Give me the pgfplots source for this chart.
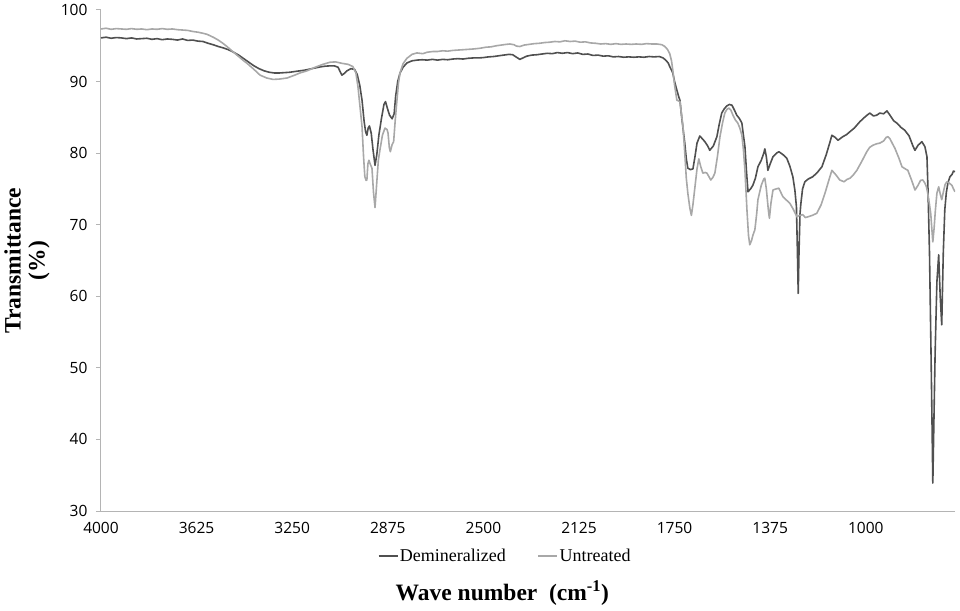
\documentclass[border=0pt]{standalone}
\usepackage{fontspec}
\setmainfont{Liberation Serif}
\newfontfamily\tickfont{Open Sans}
\usepackage{pgfplots}
\pgfplotsset{compat=1.18}
\definecolor{darkline}{RGB}{80,80,80}
\definecolor{lightline}{RGB}{168,168,168}
\definecolor{axisgray}{RGB}{180,180,180}
\begin{document}
\begin{tikzpicture}
\begin{axis}[
  name=ax,
  scale only axis, width=854pt, height=501pt,
  xmin=650, xmax=4000, x dir=reverse,
  ymin=30, ymax=100,
  xtick={4000,3625,3250,2875,2500,2125,1750,1375,1000},
  ytick={30,40,50,60,70,80,90,100},
  axis x line*=bottom, axis y line*=left,
  axis line style={axisgray, line width=1pt},
  xtick style={draw=none},
  ytick style={axisgray, line width=1pt},
  tick align=outside, major tick length=5pt,
  ticklabel style={font=\tickfont\fontsize{15.5}{18}\selectfont},
  yticklabel style={xshift=-5pt},
  xticklabel style={yshift=-3pt},
  /pgf/number format/assume math mode=true,
  /pgf/number format/1000 sep={},
  xlabel={Wave number\ \ (cm\textsuperscript{-1})},
  xlabel style={font=\bfseries\fontsize{23.5}{26}\selectfont, at={(axis description cs:0.47,0)}, anchor=center, yshift=-82pt},
  ylabel={Transmittance\\(\%)},
  ylabel style={font=\bfseries\fontsize{23.5}{24}\selectfont, align=center, at={(axis description cs:0,0.5)}, anchor=center, yshift=74pt},
  legend style={draw=none, fill=none, legend columns=2, at={(axis description cs:0.473,0)}, anchor=center, yshift=-45pt,
    font=\fontsize{18}{20}\selectfont, nodes={inner sep=1.5pt},
    /tikz/every even column/.append style={column sep=30pt}},
  legend image code/.code={\draw[#1] (0pt,0pt) -- (19pt,0pt);},
  every axis plot/.append style={line width=1.6pt, line join=round},
]
\addplot[darkline] coordinates {
(4000,96.1)(3980,96.2)(3960,96.05)(3940,96.15)(3920,96.1)(3900,96.0)(3880,96.1)(3860,95.95)(3840,96.0)(3820,96.05)
(3800,95.9)(3780,96.0)(3760,95.85)(3740,95.95)(3720,95.9)(3700,95.8)(3680,95.95)(3660,95.75)(3640,95.8)(3620,95.65)
(3600,95.6)(3580,95.35)(3560,95.15)(3540,94.9)(3520,94.7)(3500,94.45)(3480,94.1)(3460,93.7)(3440,93.2)(3420,92.7)
(3400,92.2)(3380,91.8)(3360,91.5)(3340,91.3)(3320,91.2)(3300,91.2)(3280,91.25)(3260,91.3)(3240,91.4)(3220,91.5)
(3200,91.6)(3180,91.75)(3160,91.9)(3140,92.05)(3120,92.15)(3100,92.2)(3085,92.2)(3070,92.0)(3062,91.4)(3055,90.9)
(3047,91.1)(3035,91.5)(3020,91.8)(3005,91.7)(2995,91.0)(2985,89.5)(2976,87.4)(2968,84.5)(2962,83.0)(2957,82.5)
(2952,83.5)(2947,83.8)(2940,82.8)(2933,80.5)(2925,78.3)(2918,79.8)(2910,82.5)(2900,84.8)(2890,86.8)(2884,87.2)
(2876,86.2)(2868,85.3)(2858,84.8)(2850,85.5)(2844,88.0)(2836,90.0)(2827,91.2)(2815,92.0)(2800,92.6)(2780,92.9)
(2760,93.0)(2740,93.05)(2720,93.0)(2700,93.1)(2680,93.0)(2660,93.1)(2640,93.05)(2620,93.15)(2600,93.2)(2580,93.15)
(2560,93.25)(2540,93.3)(2520,93.3)(2500,93.35)(2480,93.45)(2460,93.5)(2440,93.6)(2420,93.7)(2400,93.8)(2385,93.75)
(2370,93.4)(2357,93.1)(2345,93.3)(2330,93.55)(2310,93.7)(2290,93.75)(2270,93.85)(2250,93.95)(2230,93.9)(2210,94.05)
(2190,93.95)(2170,94.05)(2150,93.9)(2130,94.0)(2110,93.8)(2090,93.85)(2070,93.65)(2050,93.7)(2030,93.55)(2010,93.6)
(1990,93.45)(1970,93.5)(1950,93.4)(1930,93.45)(1910,93.4)(1890,93.45)(1870,93.4)(1850,93.5)(1830,93.45)(1810,93.5)
(1795,93.3)(1785,93.0)(1775,92.6)(1769,92.1)(1762,91.6)(1757,91.2)(1750,90.0)(1741,88.8)(1733,87.8)(1729,87.4)
(1722,85.0)(1717,83.5)(1710,81.4)(1704,79.2)(1698,77.9)(1688,77.7)(1678,77.8)(1670,79.5)(1662,81.4)(1651,82.4)
(1641,82.0)(1631,81.6)(1620,81.0)(1612,80.4)(1598,81.0)(1584,82.3)(1575,84.0)(1565,85.6)(1555,86.2)(1545,86.6)
(1535,86.8)(1525,86.7)(1515,86.0)(1506,85.3)(1495,84.8)(1486,84.2)(1480,82.5)(1474,80.9)(1468,77.5)(1462,74.6)
(1452,75.0)(1443,75.5)(1433,76.5)(1423,78.1)(1410,79.0)(1400,80.0)(1396,80.6)(1390,79.5)(1384,77.6)(1375,78.5)
(1364,79.5)(1350,80.0)(1341,80.2)(1325,79.8)(1310,79.3)(1298,78.2)(1290,77.2)(1286,76.7)(1278,74.8)(1272,72.5)
(1268,66)(1265,60.4)(1262,66)(1258,71.5)(1255,72.8)(1248,75.0)(1239,76.0)(1225,76.4)(1208,76.7)(1190,77.3)
(1172,78.1)(1155,79.8)(1140,81.6)(1133,82.5)(1120,82.2)(1109,81.8)(1090,82.3)(1075,82.6)(1062,83.0)(1045,83.5)
(1023,84.4)(1005,85.0)(995,85.3)(984,85.6)(970,85.2)(957,85.3)(945,85.6)(930,85.5)(917,85.9)(905,85.3)
(890,84.5)(878,84.2)(862,83.6)(847,83.2)(830,82.4)(815,81.0)(807,80.4)(795,81.1)(780,81.6)(768,80.9)
(760,79.5)(756,75)(750,66)(744,52)(740,42)(737,33.9)(733,42)(728,52)(721,62)(714,65.8)
(708,60)(702,56.0)(696,66)(690,72.1)(684,74.5)(678,75.8)(670,76.7)(662,77.0)(656,77.5)(650,77.4)
};
\addlegendentry{Demineralized}
\addplot[lightline] coordinates {
(4000,97.35)(3980,97.45)(3960,97.3)(3940,97.4)(3920,97.35)(3900,97.3)(3880,97.4)(3860,97.3)(3840,97.35)(3820,97.25)
(3800,97.35)(3780,97.3)(3760,97.4)(3740,97.3)(3720,97.35)(3700,97.25)(3680,97.2)(3660,97.15)(3640,97.0)(3620,96.9)
(3600,96.75)(3584,96.6)(3560,96.2)(3540,95.8)(3520,95.3)(3506,94.9)(3480,94.1)(3460,93.5)(3440,92.9)(3427,92.55)
(3400,91.7)(3376,90.9)(3350,90.5)(3325,90.3)(3300,90.35)(3270,90.5)(3240,90.9)(3220,91.2)(3192,91.5)(3160,92.0)
(3130,92.4)(3102,92.7)(3080,92.75)(3055,92.55)(3030,92.4)(3012,92.1)(3000,91.2)(2992,89.3)(2984,86.5)(2976,83.7)
(2970,79.5)(2965,76.7)(2960,76.2)(2957,76.25)(2953,78.5)(2949,79.0)(2943,78.4)(2937,77.9)(2931,74.5)(2925,72.4)
(2918,76)(2912,79)(2906,80.4)(2896,82.5)(2886,83.5)(2878,83.3)(2874,82.8)(2869,80.8)(2865,80.2)(2858,81.2)
(2852,81.6)(2846,84.5)(2839,87.4)(2833,89.8)(2827,91.2)(2815,92.5)(2800,93.25)(2780,93.8)(2761,94.0)(2737,93.9)
(2720,94.1)(2698,94.2)(2680,94.2)(2660,94.3)(2640,94.25)(2620,94.35)(2600,94.4)(2580,94.45)(2560,94.5)(2540,94.55)
(2514,94.65)(2490,94.8)(2470,94.85)(2450,95.0)(2430,95.1)(2410,95.2)(2396,95.25)(2380,95.15)(2370,94.95)(2357,94.9)
(2340,95.1)(2320,95.2)(2300,95.3)(2280,95.35)(2260,95.45)(2240,95.5)(2220,95.6)(2200,95.55)(2180,95.7)(2160,95.6)
(2140,95.65)(2120,95.5)(2100,95.55)(2080,95.4)(2060,95.35)(2040,95.25)(2020,95.3)(2000,95.2)(1980,95.3)(1960,95.2)
(1940,95.25)(1920,95.2)(1900,95.25)(1880,95.2)(1860,95.3)(1840,95.25)(1819,95.25)(1800,95.15)(1788,94.9)(1778,94.5)
(1769,93.9)(1762,92.9)(1757,91.6)(1750,89.5)(1741,87.4)(1735,87.3)(1729,87.2)(1723,85.5)(1717,83.7)(1710,80)
(1704,76.5)(1698,74.4)(1690,72.3)(1684,71.3)(1678,72.8)(1670,75.3)(1662,77.8)(1655,79.2)(1648,78.2)(1639,77.2)
(1630,77.3)(1623,77.2)(1615,76.7)(1608,76.25)(1600,76.6)(1592,77.2)(1582,79.5)(1572,82.3)(1562,84.2)(1553,85.6)
(1545,86.1)(1537,86.3)(1529,86.0)(1521,85.3)(1511,84.6)(1502,84.2)(1494,83.5)(1486,82.5)(1480,80.5)(1474,77.6)
(1466,72)(1460,68.5)(1455,67.2)(1448,67.8)(1443,68.5)(1435,69.3)(1428,71.5)(1423,73.5)(1410,75.5)(1400,76.4)
(1396,76.5)(1390,75)(1382,72)(1378,70.9)(1372,73.0)(1364,74.85)(1352,75.0)(1341,75.1)(1333,74.5)(1325,73.9)
(1310,73.4)(1298,73.0)(1285,72.2)(1270,71.1)(1260,71.3)(1247,71.4)(1237,71.0)(1227,71.1)(1210,71.3)(1192,71.6)
(1175,72.8)(1160,74.4)(1145,76.2)(1133,77.6)(1118,77.0)(1102,76.25)(1085,76.0)(1075,76.3)(1062,76.5)(1048,77.0)
(1035,77.6)(1015,78.9)(996,80.2)(985,80.8)(972,81.1)(958,81.3)(945,81.4)(930,81.7)(920,82.2)(913,82.3)
(905,82.0)(895,81.3)(886,80.7)(870,79.3)(858,78.1)(845,77.8)(835,77.6)(820,76.2)(807,74.85)(795,75.5)
(785,76.2)(776,76.25)(768,75.8)(762,75.3)(757,74.4)(750,72.8)(745,71.5)(741,69.5)(737,67.6)(732,69.5)
(727,72)(721,74.4)(714,75.3)(708,74.3)(702,73.5)(696,74.5)(689,75.6)(682,76.0)(672,75.8)(662,75.5)
(656,75.0)(650,74.6)
};
\addlegendentry{Untreated}
\end{axis}
\pgfresetboundingbox
\path[use as bounding box] ([xshift=-101pt,yshift=-99pt]ax.south west) rectangle ([xshift=5pt,yshift=10pt]ax.north east);
\end{tikzpicture}
\end{document}
